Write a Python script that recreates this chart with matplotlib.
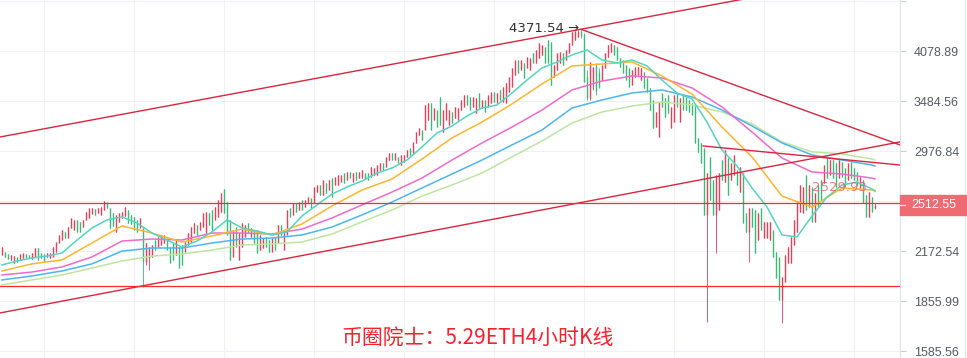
import matplotlib
matplotlib.use("Agg")
import matplotlib.pyplot as plt
from matplotlib.patches import Rectangle
from matplotlib.lines import Line2D

plt.rcParams['font.family'] = ['Noto Sans CJK SC', 'DejaVu Sans']

# ETH 4h candles, left to right
opens = [
    2147, 2167, 2154, 2114, 2094, 2134, 2114, 2127, 2154, 2147,
    2121, 2134, 2195, 2161, 2154, 2134, 2127, 2134, 2167, 2230,
    2251, 2309, 2265, 2338, 2323, 2398, 2383, 2345, 2398, 2413,
    2443, 2482, 2451, 2436, 2474, 2537, 2490, 2451, 2309, 2383,
    2413, 2428, 2474, 2436, 2421, 2398, 2338, 2338, 2101, 2130,
    2134, 2251, 2202, 2216, 2230, 2265, 2202, 2230, 2147, 2202,
    2216, 2167, 2216, 2237, 2301, 2360, 2323, 2345, 2301, 2451,
    2474, 2398, 2421, 2458, 2643, 2537, 2398, 2134, 2345, 2114,
    2202, 2273, 2375, 2273, 2323, 2323, 2181, 2195, 2273, 2251,
    2167, 2273, 2230, 2360, 2181, 2287, 2490, 2436, 2529, 2474,
    2553, 2498, 2529, 2569, 2529, 2618, 2677, 2594, 2694, 2635,
    2736, 2677, 2677, 2702, 2780, 2719, 2789, 2702, 2789, 2736,
    2736, 2780, 2780, 2745, 2763, 2763, 2806, 2869, 2833, 2896,
    2961, 2896, 2924, 2851, 2878, 2924, 3008, 2961, 3056, 3134,
    3183, 3183, 3285, 3466, 3285, 3390, 3532, 3163, 3285, 3234,
    3369, 3306, 3285, 3390, 3423, 3554, 3532, 3423, 3358, 3577,
    3412, 3499, 3423, 3466, 3588, 3466, 3611, 3477, 3466, 3588,
    3645, 3786, 3969, 3846, 3932, 3870, 3846, 4058, 3932, 3994,
    4032, 4135, 4227, 4200, 3762, 3846, 3932, 4058, 3969, 4058,
    4161, 4227, 4267, 4350, 4300, 3760, 3520, 3700, 3900, 3820,
    3726, 3870, 4007, 4071, 4161, 4135, 3994, 3969, 3907, 3870,
    3668, 3762, 3786, 3726, 3822, 3750, 3634, 3499, 3213, 3115,
    3577, 3521, 3554, 3203, 3264, 3577, 3264, 3554, 3532, 3499,
    3466, 3444, 3105, 3056, 3008, 2436, 2924, 2719, 2436, 2474,
    2896, 2702, 2914, 2719, 2763, 2806, 2618, 2780, 2451, 2309,
    2490, 2474, 2251, 2490, 2265, 2265, 2251, 2323, 2167, 2134,
    1864, 1973, 2094, 2094, 2216, 2309, 2458, 2451, 2763, 2498,
    2660, 2383, 2677, 2719, 2694, 2914, 2763, 2896, 2869, 2736,
    2878, 2824, 2719, 2878, 2824, 2789, 2652, 2719, 2594, 2421,
    2577, 2490,
]
highs = [
    2202, 2167, 2154, 2147, 2140, 2134, 2154, 2161, 2154, 2147,
    2161, 2195, 2195, 2161, 2154, 2161, 2161, 2202, 2237, 2287,
    2323, 2309, 2345, 2413, 2398, 2398, 2383, 2398, 2458, 2490,
    2490, 2482, 2490, 2498, 2545, 2537, 2490, 2451, 2436, 2451,
    2458, 2498, 2474, 2436, 2421, 2398, 2413, 2338, 2230, 2202,
    2216, 2251, 2273, 2287, 2287, 2265, 2202, 2230, 2251, 2202,
    2216, 2237, 2301, 2345, 2375, 2360, 2383, 2451, 2458, 2451,
    2474, 2498, 2553, 2610, 2643, 2537, 2398, 2323, 2345, 2301,
    2375, 2360, 2375, 2338, 2323, 2323, 2287, 2265, 2273, 2251,
    2265, 2273, 2360, 2360, 2323, 2474, 2490, 2529, 2529, 2537,
    2553, 2553, 2577, 2569, 2660, 2677, 2677, 2719, 2694, 2719,
    2736, 2745, 2763, 2763, 2780, 2789, 2789, 2780, 2789, 2789,
    2806, 2780, 2780, 2833, 2824, 2851, 2869, 2869, 2924, 2961,
    2961, 2961, 2924, 2943, 2943, 2989, 3008, 3066, 3163, 3203,
    3183, 3444, 3466, 3466, 3412, 3390, 3532, 3390, 3466, 3390,
    3369, 3423, 3412, 3499, 3554, 3554, 3532, 3532, 3521, 3577,
    3499, 3499, 3554, 3588, 3588, 3577, 3611, 3645, 3691, 3762,
    3870, 3969, 3969, 3969, 3932, 4007, 3994, 4058, 4096, 4187,
    4161, 4135, 4227, 4200, 3907, 4058, 4071, 4058, 4096, 4187,
    4335, 4349, 4360, 4371.54, 4321, 3846, 3944, 3883, 3932, 3870,
    3907, 4058, 4161, 4187, 4161, 4135, 3994, 3969, 3907, 3870,
    3846, 3883, 3883, 3870, 3822, 3750, 3634, 3499, 3369, 3477,
    3577, 3521, 3554, 3423, 3554, 3577, 3521, 3554, 3532, 3499,
    3466, 3444, 3105, 3056, 3008, 2780, 2924, 2719, 2763, 2780,
    2896, 2989, 2914, 2869, 2943, 2806, 2833, 2780, 2451, 2490,
    2490, 2474, 2451, 2490, 2383, 2383, 2383, 2323, 2167, 2134,
    2004, 2147, 2202, 2273, 2398, 2537, 2677, 2660, 2763, 2677,
    2660, 2610, 2677, 2719, 2851, 2914, 2896, 2896, 2869, 2896,
    2878, 2824, 2869, 2878, 2824, 2789, 2745, 2719, 2594, 2618,
    2577, 2530,
]
lows = [
    2147, 2134, 2121, 2114, 2094, 2101, 2114, 2127, 2127, 2127,
    2121, 2134, 2114, 2127, 2101, 2134, 2127, 2134, 2167, 2230,
    2251, 2265, 2265, 2338, 2323, 2309, 2309, 2345, 2398, 2413,
    2443, 2436, 2451, 2436, 2474, 2490, 2338, 2353, 2309, 2383,
    2413, 2428, 2375, 2368, 2323, 2309, 2338, 1942, 2081, 2048,
    2134, 2181, 2202, 2216, 2230, 2181, 2094, 2114, 2147, 2061,
    2081, 2167, 2216, 2237, 2301, 2287, 2323, 2345, 2301, 2360,
    2323, 2398, 2421, 2458, 2451, 2287, 2114, 2134, 2202, 2114,
    2202, 2273, 2301, 2273, 2230, 2161, 2181, 2195, 2202, 2167,
    2167, 2181, 2230, 2287, 2181, 2287, 2421, 2436, 2458, 2474,
    2474, 2498, 2529, 2490, 2529, 2618, 2594, 2594, 2610, 2635,
    2577, 2677, 2677, 2702, 2694, 2719, 2736, 2702, 2719, 2736,
    2736, 2728, 2719, 2745, 2763, 2763, 2806, 2806, 2833, 2896,
    2896, 2896, 2869, 2851, 2878, 2924, 2943, 2961, 3056, 3134,
    3085, 3183, 3285, 3183, 3285, 3213, 3234, 3163, 3285, 3234,
    3254, 3306, 3285, 3390, 3423, 3444, 3390, 3423, 3358, 3412,
    3412, 3369, 3423, 3466, 3477, 3466, 3499, 3477, 3466, 3588,
    3645, 3786, 3810, 3846, 3750, 3870, 3846, 3932, 3932, 3994,
    4032, 3932, 3932, 3668, 3762, 3846, 3932, 3907, 3969, 4058,
    4161, 4227, 4267, 4250, 3703, 3499, 3499, 3611, 3554, 3634,
    3726, 3870, 4007, 4071, 4032, 3969, 3883, 3810, 3726, 3645,
    3668, 3762, 3786, 3726, 3634, 3588, 3390, 3203, 3213, 3115,
    3423, 3316, 3358, 3203, 3264, 3423, 3264, 3390, 3390, 3369,
    3337, 3056, 2971, 2869, 2436, 1740, 2553, 2436, 2161, 2474,
    2719, 2702, 2594, 2719, 2763, 2677, 2618, 2375, 2309, 2101,
    2345, 2161, 2251, 2323, 2265, 2265, 2251, 2134, 1997, 1864,
    1734, 1973, 2094, 2094, 2216, 2309, 2458, 2451, 2474, 2498,
    2383, 2383, 2498, 2553, 2694, 2736, 2763, 2736, 2660, 2736,
    2745, 2660, 2719, 2736, 2719, 2677, 2652, 2529, 2421, 2421,
    2458, 2480,
]
closes = [
    2202, 2134, 2121, 2147, 2140, 2101, 2154, 2161, 2127, 2127,
    2161, 2195, 2114, 2127, 2101, 2161, 2161, 2202, 2237, 2287,
    2323, 2265, 2345, 2413, 2398, 2309, 2309, 2398, 2458, 2490,
    2490, 2436, 2490, 2498, 2545, 2490, 2338, 2353, 2436, 2451,
    2458, 2498, 2375, 2368, 2323, 2309, 2413, 2101, 2230, 2202,
    2216, 2181, 2273, 2287, 2287, 2181, 2094, 2114, 2251, 2061,
    2081, 2237, 2301, 2345, 2375, 2287, 2383, 2451, 2458, 2360,
    2323, 2498, 2553, 2610, 2451, 2287, 2114, 2323, 2202, 2301,
    2375, 2360, 2301, 2338, 2230, 2161, 2287, 2265, 2202, 2167,
    2265, 2181, 2360, 2287, 2323, 2474, 2421, 2529, 2458, 2537,
    2474, 2553, 2577, 2490, 2660, 2677, 2594, 2719, 2610, 2719,
    2577, 2745, 2763, 2763, 2694, 2789, 2736, 2780, 2719, 2789,
    2806, 2728, 2719, 2833, 2824, 2851, 2869, 2806, 2924, 2961,
    2896, 2961, 2869, 2943, 2943, 2989, 2943, 3066, 3163, 3203,
    3085, 3444, 3466, 3183, 3412, 3213, 3234, 3390, 3466, 3390,
    3254, 3423, 3412, 3499, 3554, 3444, 3390, 3532, 3521, 3412,
    3499, 3369, 3554, 3588, 3477, 3577, 3499, 3645, 3691, 3762,
    3870, 3969, 3810, 3969, 3750, 4007, 3994, 3932, 4096, 4187,
    4161, 3932, 3932, 3668, 3907, 4058, 4071, 3907, 4096, 4187,
    4335, 4349, 4340, 4280, 3703, 3520, 3944, 3883, 3600, 3650,
    3907, 4058, 4161, 4187, 4032, 3969, 3883, 3810, 3726, 3645,
    3846, 3883, 3883, 3870, 3634, 3588, 3390, 3203, 3369, 3477,
    3423, 3316, 3358, 3423, 3554, 3423, 3521, 3390, 3390, 3369,
    3337, 3056, 2971, 2869, 2436, 2780, 2553, 2436, 2763, 2780,
    2719, 2989, 2594, 2869, 2943, 2677, 2833, 2375, 2309, 2490,
    2345, 2161, 2451, 2323, 2383, 2383, 2383, 2134, 1997, 1864,
    2004, 2147, 2202, 2273, 2398, 2537, 2677, 2660, 2474, 2677,
    2383, 2610, 2498, 2553, 2851, 2736, 2896, 2736, 2660, 2896,
    2745, 2660, 2869, 2736, 2719, 2677, 2745, 2529, 2421, 2618,
    2458, 2512.55,
]

# moving average lines
fast_idx = list(range(0, 291, 5)) + [291]
ma_teal = [
    2081, 2107, 2127, 2140, 2161, 2251, 2338, 2398, 2421, 2375,
    2301, 2251, 2202, 2244, 2309, 2398, 2338, 2316, 2287, 2309,
    2428, 2514, 2602, 2660, 2711, 2780, 2824, 2896, 3018, 3154,
    3224, 3327, 3412, 3444, 3577, 3726, 3870, 3944, 4032, 4096,
    3969, 3932, 3969, 3895, 3726, 3577, 3510, 3264, 2989, 2842,
    2652, 2498, 2287, 2273, 2428, 2577, 2677, 2702, 2643, 2627,
]
slow_idx = list(range(0, 291, 10)) + [291]
ma_orange = [2042, 2088, 2114, 2230, 2353, 2301, 2237, 2280, 2330, 2287,
             2368, 2506, 2635, 2728, 2905, 3105, 3264, 3455, 3680, 3895,
             3919, 3944, 3774, 3565, 3213, 2924, 2585, 2498, 2652, 2635, 2627]
ma_pink = [2016, 2035, 2068, 2134, 2244, 2258, 2251, 2301, 2301, 2294,
           2330, 2413, 2514, 2618, 2736, 2896, 3056, 3213, 3390, 3611,
           3714, 3774, 3750, 3634, 3423, 3163, 2914, 2789, 2771, 2736, 2728]
ma_blue = [1985, 2010, 2042, 2088, 2174, 2195, 2195, 2230, 2258, 2265,
           2287, 2345, 2436, 2537, 2652, 2771, 2896, 3037, 3183, 3412,
           3499, 3577, 3611, 3532, 3390, 3224, 3056, 2943, 2896, 2851, 2842]
ma_lgreen = [1954, 1985, 2016, 2061, 2107, 2140, 2154, 2181, 2216, 2223,
             2237, 2294, 2383, 2474, 2585, 2677, 2780, 2924, 3075, 3254,
             3369, 3433, 3477, 3444, 3369, 3244, 3066, 2971, 2952, 2905, 2896]

# drawn trend lines: (candle index pair, price pair)
trend_lines = [
    ([-0.67, 299.33], [3114, 5268]),
    ([-0.67, 299.33], [1789, 3066]),
    ([193, 299.33], [4371.54, 3037]),
    ([233.7, 299.33], [3027, 2851]),
]
level_price = 2529.93
support_price = 1948
last_price = 2512.55
peak_idx, peak_price = 193, 4371.54
y_ticks = [1585.56, 1855.99, 2172.54, 2543.04, 2976.84, 3484.56, 4078.89, 4774.80]
hidden_ticks = [2543.04, 4774.80]   # covered by the price tag / cut at the top
title = '币圈院士：5.29ETH4小时K线'

W, H = 967, 358
fig = plt.figure(figsize=(W / 100, H / 100), dpi=100)
ax = fig.add_axes([0, 0, 900 / W, 1])
ax.set_yscale('log')
ax.set_ylim(1552.3, 4794)
ax.set_xlim(-2 / 3, 300 - 2 / 3)

# grid
ax.set_xticks([14 + 30 * k for k in range(10)])
ax.set_yticks(y_ticks)
ax.minorticks_off()
ax.grid(True, color='#eef1f6', linewidth=0.8, zorder=0)
ax.tick_params(axis='x', length=0, labelbottom=False)
ax.yaxis.tick_right()
ax.set_yticklabels(['' if v in hidden_ticks else '%.2f' % v for v in y_ticks],
                   family='Liberation Sans')
ax.tick_params(axis='y', length=4, width=0.8, color='#c8ccd4', pad=6,
               labelsize=9, labelcolor='#555a64')
for s in ['top', 'left', 'bottom']:
    ax.spines[s].set_visible(False)
ax.spines['right'].set_color('#dfe2e8')

# candles
up_col, dn_col = '#e8405a', '#3cb878'
idx = list(range(len(closes)))
cols = [up_col if c >= o else dn_col for o, c in zip(opens, closes)]
body_lo = [min(o, c) for o, c in zip(opens, closes)]
body_hi = [max(o, c) for o, c in zip(opens, closes)]
ax.vlines(idx, lows, highs, colors=cols, linewidth=0.6, zorder=2)
ax.vlines(idx, body_lo, body_hi, colors=cols, linewidth=1.0, zorder=2)

# moving averages
ax.plot(slow_idx, ma_lgreen, color='#bde5a2', lw=1.1, zorder=3)
ax.plot(slow_idx, ma_blue, color='#4db6ee', lw=1.1, zorder=3)
ax.plot(slow_idx, ma_pink, color='#f06acb', lw=1.1, zorder=3)
ax.plot(slow_idx, ma_orange, color='#ffb52e', lw=1.1, zorder=3)
ax.plot(fast_idx, ma_teal, color='#52d6c1', lw=1.1, zorder=3)

# trend lines and levels
for xs, ys in trend_lines:
    ax.plot(xs, ys, color='#d9263f', lw=1.0, zorder=4)
ax.axhline(level_price, color='#ff2b2b', lw=0.9, zorder=4)
ax.axhline(support_price, color='#ff2b2b', lw=0.9, zorder=4)

ax.text(peak_idx - 0.7, peak_price * 1.001, '%.2f →' % peak_price,
        ha='right', va='center', fontsize=9.5, color='#333333',
        family=['DejaVu Sans'])
ax.text(279.3, 2652, '%.2f' % level_price, ha='center', va='center',
        fontsize=9.5, color='#ec5a66', alpha=0.8, family=['DejaVu Sans'],
        zorder=5)

# last price tag on the axis
fig.patches.append(Rectangle((900 / W, 1 - 215 / H), 67 / W, 20 / H,
                             transform=fig.transFigure, color='#ee6b74',
                             zorder=5))
fig.lines.append(Line2D([900 / W, 905 / W], [1 - 205 / H, 1 - 205 / H],
                        transform=fig.transFigure, color='white', lw=0.8,
                        zorder=6))
fig.text(911 / W, 1 - 205 / H, '%.2f' % last_price, color='white',
         fontsize=9, family='Liberation Sans', ha='left', va='center',
         zorder=6)
fig.lines.append(Line2D([965 / W, 965 / W], [0, 1], transform=fig.transFigure,
                        color='#e6e8ec', lw=0.8))

fig.text(478 / W, 1 - 338 / H, title, color='#f5222d', fontsize=15,
         ha='center', va='center')

fig.savefig('out.png', dpi=100)
